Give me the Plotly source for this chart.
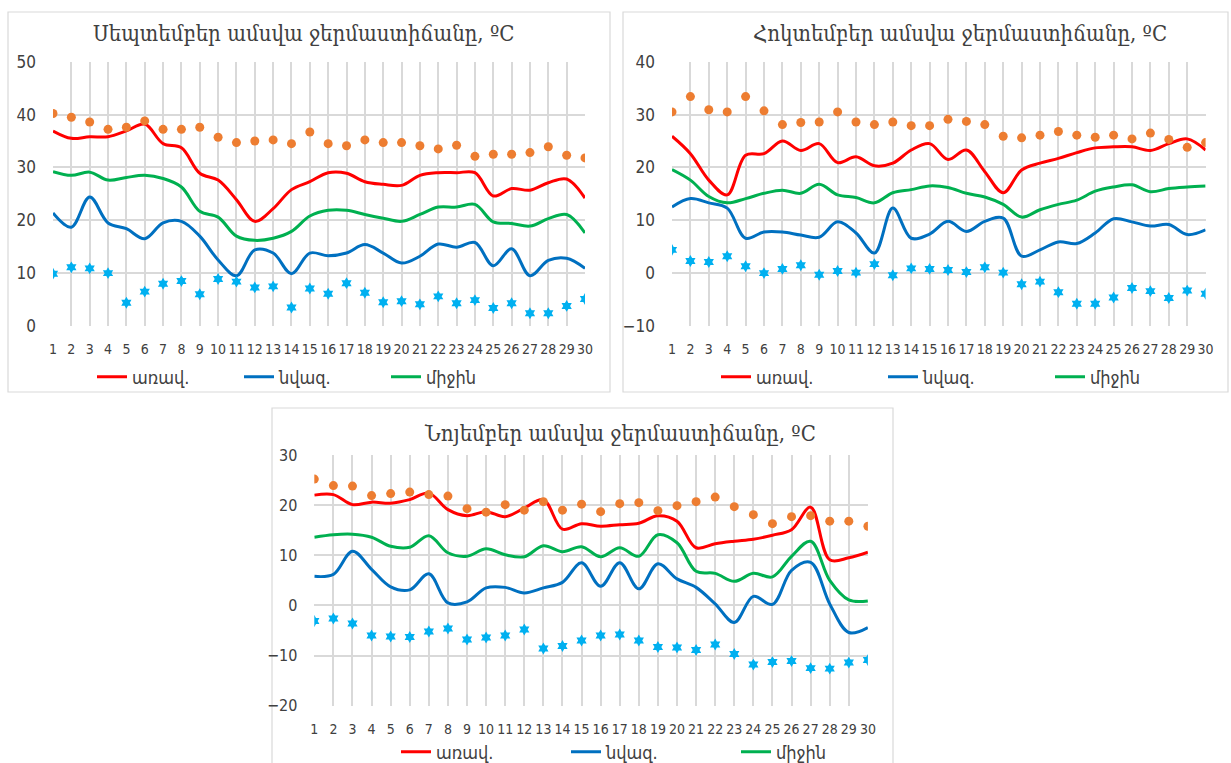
import plotly.graph_objects as go

days = list(range(1, 31))

# September
sep_max = [36.9, 35.5, 35.8, 35.8, 36.9, 38.2, 34.5, 33.7, 28.9, 27.6,
           23.9, 19.8, 22.2, 25.8, 27.3, 29.0, 28.9, 27.3, 26.8, 26.6,
           28.5, 29.0, 29.0, 29.0, 24.6, 26.0, 25.7, 27.1, 27.8, 24.2]
sep_min = [21.4, 18.7, 24.4, 19.5, 18.4, 16.5, 19.5, 19.8, 17.0, 12.5,
           9.5, 14.4, 13.8, 9.9, 13.8, 13.3, 13.8, 15.4, 13.8, 11.9,
           13.2, 15.5, 14.9, 15.8, 11.4, 14.6, 9.5, 12.4, 12.8, 10.9]
sep_mean = [29.2, 28.5, 29.1, 27.6, 28.1, 28.5, 27.9, 26.3, 21.7, 20.6,
            17.0, 16.2, 16.6, 17.9, 20.8, 21.9, 21.9, 21.1, 20.4, 19.8,
            21.1, 22.5, 22.5, 23.0, 19.7, 19.4, 18.9, 20.3, 21.1, 17.6]
sep_absmax = [40.2, 39.5, 38.6, 37.2, 37.6, 38.8, 37.2, 37.2, 37.6, 35.7,
              34.7, 35.0, 35.2, 34.5, 36.7, 34.5, 34.1, 35.2, 34.7, 34.7,
              34.1, 33.5, 34.2, 32.1, 32.5, 32.5, 32.8, 33.9, 32.3, 31.8]
sep_absmin = [9.9, 11.1, 10.9, 10.0, 4.4, 6.5, 8.0, 8.5, 6.0, 8.9,
              8.4, 7.3, 7.5, 3.5, 7.1, 6.1, 8.1, 6.3, 4.5, 4.7,
              4.1, 5.6, 4.3, 4.9, 3.4, 4.3, 2.4, 2.4, 3.8, 5.1]

# October
oct_max = [25.9, 22.6, 17.6, 14.8, 22.3, 22.6, 25.0, 23.2, 24.5, 20.9,
           22.0, 20.3, 20.8, 23.3, 24.5, 21.5, 23.3, 19.2, 15.2, 19.5,
           20.8, 21.7, 22.8, 23.7, 23.9, 23.9, 23.2, 24.5, 25.4, 23.3]
oct_min = [12.5, 14.1, 13.3, 12.3, 6.6, 7.8, 7.8, 7.2, 6.8, 9.7,
           7.6, 3.8, 12.3, 6.6, 7.4, 9.8, 7.9, 9.8, 10.4, 3.2,
           4.4, 5.9, 5.6, 7.6, 10.3, 9.7, 8.9, 9.2, 7.3, 8.2]
oct_mean = [19.6, 17.6, 14.5, 13.3, 14.1, 15.1, 15.7, 15.1, 16.8, 14.8,
            14.3, 13.3, 15.2, 15.8, 16.5, 16.2, 15.1, 14.4, 13.0, 10.6,
            12.0, 13.0, 13.8, 15.5, 16.3, 16.7, 15.4, 16.0, 16.3, 16.5]
oct_absmax = [30.5, 33.4, 30.9, 30.5, 33.4, 30.7, 28.1, 28.5, 28.6, 30.5,
              28.6, 28.1, 28.6, 27.9, 27.9, 29.1, 28.7, 28.1, 25.9, 25.6,
              26.1, 26.8, 26.1, 25.7, 26.1, 25.4, 26.5, 25.3, 23.8, 24.7]
oct_absmin = [4.4, 2.3, 2.1, 3.2, 1.3, 0.0, 0.8, 1.5, -0.3, 0.4,
              0.1, 1.7, -0.4, 0.9, 0.8, 0.6, 0.2, 1.1, 0.1, -2.1,
              -1.6, -3.6, -5.8, -5.8, -4.6, -2.8, -3.4, -4.7, -3.3, -3.9]

# November
nov_max = [22.0, 22.1, 20.1, 20.6, 20.4, 21.1, 22.4, 19.1, 17.9, 18.7,
           17.7, 19.4, 21.1, 15.2, 16.3, 15.8, 16.1, 16.4, 17.9, 16.8,
           11.5, 12.3, 12.8, 13.2, 14.0, 15.1, 19.6, 9.1, 9.5, 10.6]
nov_min = [5.8, 6.2, 10.8, 7.2, 3.7, 3.1, 6.3, 0.5, 0.7, 3.5,
           3.6, 2.5, 3.5, 4.6, 8.5, 3.8, 8.5, 3.3, 8.3, 5.3,
           3.6, 0.3, -3.4, 1.8, 0.2, 7.0, 8.6, 0.3, -5.4, -4.4]
nov_mean = [13.6, 14.1, 14.2, 13.6, 11.8, 11.6, 13.9, 10.5, 9.8, 11.3,
            10.1, 9.7, 11.9, 10.7, 11.7, 9.7, 11.5, 9.8, 14.1, 12.5,
            6.8, 6.4, 4.8, 6.4, 5.7, 9.8, 12.8, 5.0, 1.1, 0.9]
nov_absmax = [25.2, 23.9, 23.8, 21.9, 22.3, 22.6, 22.1, 21.8, 19.3, 18.6,
              20.1, 19.0, 20.7, 19.0, 20.2, 18.7, 20.3, 20.5, 18.9, 19.9,
              20.7, 21.6, 19.7, 18.1, 16.3, 17.7, 17.9, 16.8, 16.8, 15.8]
nov_absmin = [-3.1, -2.6, -3.6, -6.0, -6.2, -6.3, -5.2, -4.6, -6.8, -6.4,
              -6.0, -4.8, -8.6, -8.1, -7.0, -6.0, -5.8, -7.0, -8.3, -8.4,
              -8.9, -7.8, -9.7, -11.8, -11.3, -11.1, -12.5, -12.6, -11.4, -10.9]

titles = ["Սեպտեմբեր ամսվա ջերմաստիճանը, ºC",
          "Հոկտեմբեր ամսվա ջերմաստիճանը, ºC",
          "Նոյեմբեր ամսվա ջերմաստիճանը, ºC"]
series_names = ["առավ.", "նվազ.", "միջին"]
y_ranges = [(0, 50), (-10, 40), (-20, 30)]

W, H = 1231, 763
NUM_FONT = "DejaVu Sans Condensed, sans-serif"
ARM_FONT = "DejaVu Sans Condensed, sans-serif"
TITLE_FONT = "DejaVu Serif Condensed, DejaVu Sans Condensed, serif"

def px(x):
    return x / W

def py(y):
    return 1 - y / H

panels = [
    dict(data=(sep_max, sep_min, sep_mean, sep_absmax, sep_absmin),
         xdom=(53, 585), ydom=(61.7, 326), box=(8, 12, 610, 392),
         title_xy=(303, 33), legend_xy=(92, 377), ytick=17, ew=102,
         legend="legend"),
    dict(data=(oct_max, oct_min, oct_mean, oct_absmax, oct_absmin),
         xdom=(672, 1205.6), ydom=(61.7, 326), box=(623, 12, 1228, 392),
         title_xy=(960, 33), legend_xy=(716, 377), ytick=17, ew=122,
         legend="legend2"),
    dict(data=(nov_max, nov_min, nov_mean, nov_absmax, nov_absmin),
         xdom=(314.3, 867.9), ydom=(455, 705.7), box=(272, 408, 893, 775),
         title_xy=(620, 433), legend_xy=(396, 752), ytick=16, ew=125,
         legend="legend3"),
]

colors = ["#FF0000", "#0070C0", "#00B050"]

fig = go.Figure()
layout = dict(width=W, height=H,
              margin=dict(l=0, r=0, t=0, b=0, pad=0, autoexpand=False),
              paper_bgcolor="white", plot_bgcolor="white",
              font=dict(family=NUM_FONT, color="#595959"),
              shapes=[], annotations=[])

for i, p in enumerate(panels):
    sfx = "" if i == 0 else str(i + 1)
    xa, ya = "x" + sfx, "y" + sfx
    mx, mn, me, amx, amn = p["data"]
    for name, vals, col in zip(series_names, (mx, mn, me), colors):
        fig.add_trace(go.Scatter(
            x=days, y=vals, mode="lines", name=name,
            line=dict(color=col, width=3, shape="spline", smoothing=1),
            xaxis=xa, yaxis=ya, legend=p["legend"], showlegend=True))
    fig.add_trace(go.Scatter(
        x=days, y=amx, mode="markers", showlegend=False,
        marker=dict(color="#ED7D31", size=9, symbol="circle"),
        xaxis=xa, yaxis=ya))
    fig.add_trace(go.Scatter(
        x=days, y=amn, mode="markers", showlegend=False,
        marker=dict(color="#00B0F0", size=9, symbol="hexagram"),
        xaxis=xa, yaxis=ya))

    x0, x1 = p["xdom"]
    yt, yb = p["ydom"]
    layout["xaxis" + sfx] = dict(
        domain=[px(x0), px(x1)], anchor=ya, range=[1, 30],
        tickmode="array", tickvals=days, ticktext=[str(d) for d in days],
        tickangle=0, automargin=False,
        showgrid=True, gridcolor="#D9D9D9", gridwidth=1.5,
        zeroline=False, showline=False, ticks="",
        tickfont=dict(size=14, color="#404040", family=NUM_FONT),
        ticklabelstandoff=13, fixedrange=True)
    r0, r1 = y_ranges[i]
    layout["yaxis" + sfx] = dict(
        domain=[py(yb), py(yt)], anchor=xa, range=[r0, r1], dtick=10,
        automargin=False,
        showgrid=True, gridcolor="#D9D9D9", gridwidth=1.5,
        zeroline=False, showline=False, ticks="",
        tickfont=dict(size=p["ytick"], color="#404040", family=NUM_FONT),
        ticklabelstandoff=16, fixedrange=True)

    bx0, by0, bx1, by1 = p["box"]
    layout["shapes"].append(dict(
        type="rect", xref="paper", yref="paper",
        x0=px(bx0), x1=px(bx1), y0=py(by1), y1=py(by0),
        line=dict(color="#D9D9D9", width=1.2), fillcolor="rgba(0,0,0,0)",
        layer="below"))
    tx, ty = p["title_xy"]
    layout["annotations"].append(dict(
        text=titles[i], x=px(tx), y=py(ty), xref="paper", yref="paper",
        xanchor="center", yanchor="middle", showarrow=False,
        font=dict(size=22, color="#404040", family=TITLE_FONT)))
    lx, ly = p["legend_xy"]
    layout[p["legend"]] = dict(
        orientation="h", x=px(lx), y=py(ly), xanchor="left", yanchor="middle",
        bgcolor="rgba(0,0,0,0)", entrywidth=p["ew"], entrywidthmode="pixels",
        font=dict(size=18, color="#404040", family=ARM_FONT),
        itemclick=False, itemdoubleclick=False)

fig.update_layout(**layout)
fig.write_html("out.html",
               config={"displayModeBar": False},
               post_script="document.body.style.margin='0px';"
                           "document.body.style.overflow='hidden';")
